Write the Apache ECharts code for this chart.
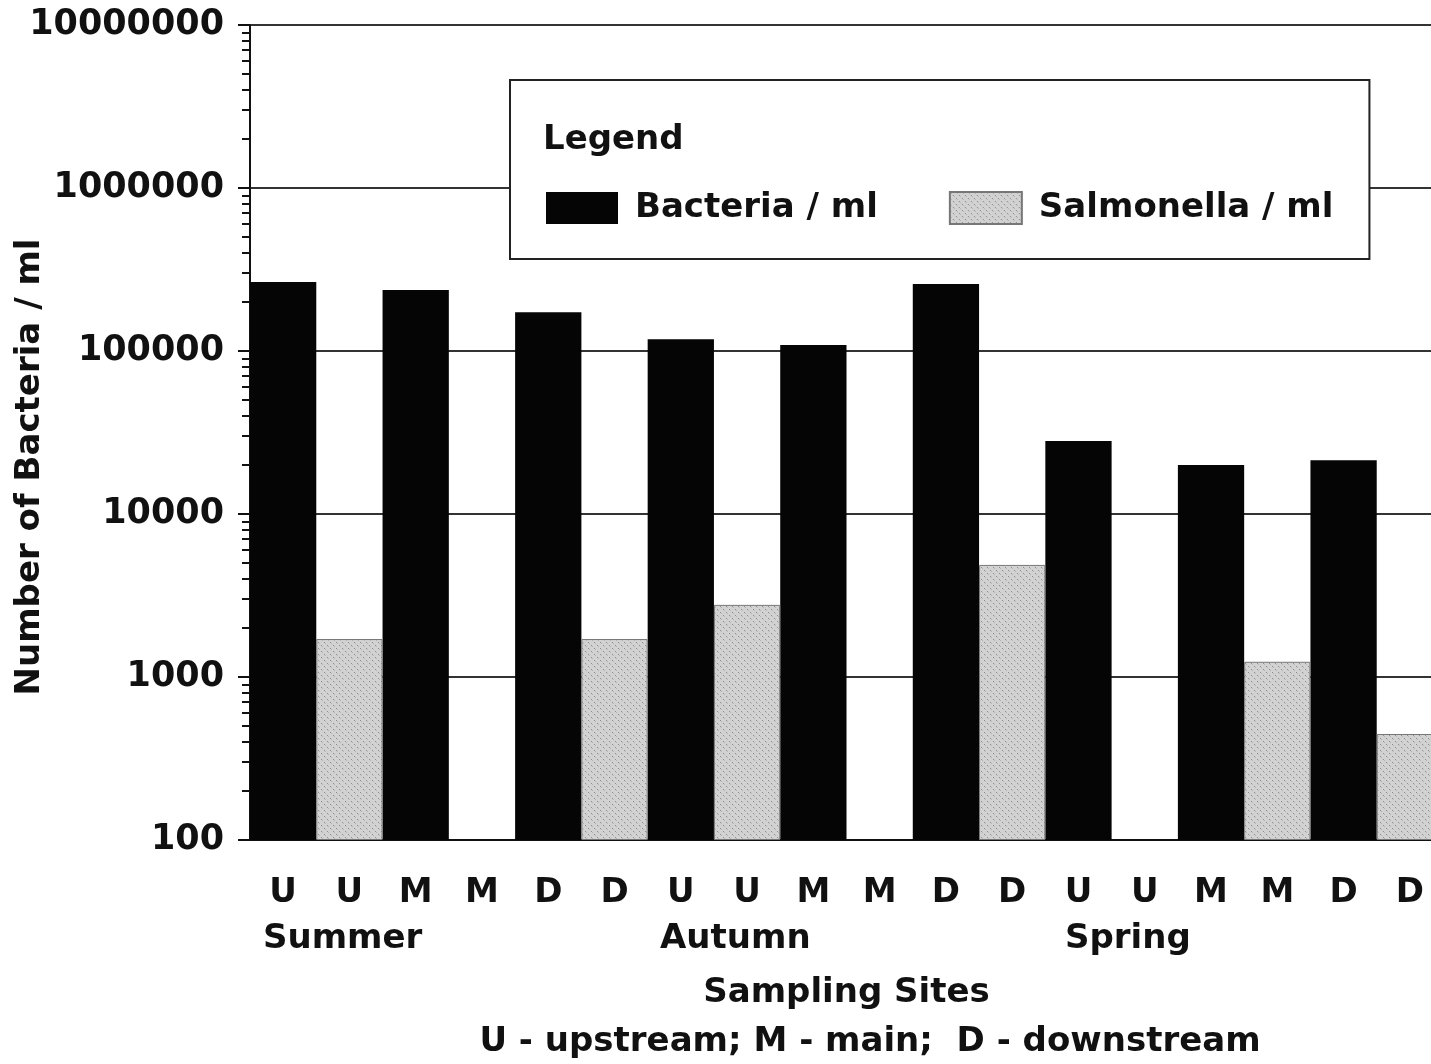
<!DOCTYPE html>
<html>
<head>
<meta charset="utf-8">
<script src="https://cdn.jsdelivr.net/npm/echarts@6/dist/echarts.min.js"></script>
<style>
html, body { margin: 0; padding: 0; background: #fff; }
#chart { width: 1431px; height: 1064px; }
</style>
</head>
<body>
<div id="chart"></div>
<script>
// sampling sites along the x axis, two columns per site (bacteria, salmonella)
var sites = ['U', 'U', 'M', 'M', 'D', 'D', 'U', 'U', 'M', 'M', 'D', 'D', 'U', 'U', 'M', 'M', 'D', 'D'];
var seasons = ['Summer', 'Autumn', 'Spring'];

// one value per site: Summer U/M/D, Autumn U/M/D, Spring U/M/D
var bacteria = [265000, 237000, 173000, 118000, 109000, 258000, 28000, 20000, 21400];
var salmonella = [1710, null, 1710, 2770, null, 4870, null, 1240, 447];

var yTicks = [100, 1000, 10000, 100000, 1000000, 10000000];

var FONT = 'DejaVu Sans';

function spread(values, offset) {
	var re = [];
	for (var i = 0; i < values.length; i++) {
		re[i * 2] = '-';
		re[i * 2 + 1] = '-';
		re[i * 2 + offset] = values[i] == null ? '-' : values[i];
	}
	return re;
}

function makeHatch() {
	var c = document.createElement('canvas');
	c.width = 6; c.height = 6;
	var g = c.getContext('2d');
	g.fillStyle = '#d2d2d2';
	g.fillRect(0, 0, 6, 6);
	g.fillStyle = '#8e8e8e';
	g.fillRect(0, 0, 1, 1);
	g.fillRect(3, 3, 1, 1);
	g.fillStyle = '#b4b4b4';
	g.fillRect(1, 1, 1, 1);
	g.fillRect(4, 4, 1, 1);
	return c;
}

var chart = echarts.init(document.getElementById('chart'));

var option = {
	backgroundColor: '#fff',
	animation: false,
	grid: { left: 250, right: -12, top: 25, bottom: 224, outerBoundsMode: 'none' },
	legend: {
		data: ['Bacteria / ml', 'Salmonella / ml'],
		left: 510, top: 80,
		padding: [111, 36, 34, 36],
		itemWidth: 72, itemHeight: 32, itemGap: 71,
		icon: 'rect',
		backgroundColor: '#fff',
		borderColor: '#222', borderWidth: 2,
		selectedMode: false,
		textStyle: { fontFamily: FONT, fontWeight: 'bold', fontSize: 34, color: '#111', padding: [0, 0, 0, 12] }
	},
	xAxis: {
		type: 'category',
		data: sites,
		axisLine: { lineStyle: { color: '#111', width: 2 } },
		axisTick: { alignWithLabel: true, length: 12, lineStyle: { color: '#111', width: 2 } },
		axisLabel: { fontFamily: FONT, fontWeight: 'bold', fontSize: 34, color: '#111', margin: 36, interval: 0 },
		name: 'Sampling Sites',
		nameLocation: 'middle',
		nameGap: 136,
		nameTextStyle: { fontFamily: FONT, fontWeight: 'bold', fontSize: 34, color: '#111' }
	},
	yAxis: {
		type: 'log',
		logBase: 10,
		min: yTicks[0],
		max: yTicks[yTicks.length - 1],
		startValue: yTicks[0],
		axisLine: { show: true, lineStyle: { color: '#111', width: 2 } },
		axisTick: { show: true, length: 12, lineStyle: { color: '#111', width: 2 } },
		minorTick: { show: true, splitNumber: 9, length: 8, lineStyle: { color: '#111', width: 2 } },
		splitLine: { show: true, lineStyle: { color: '#333', width: 2 } },
		axisLabel: {
			fontFamily: FONT, fontWeight: 'bold', fontSize: 35, color: '#111', margin: 26,
			formatter: function (v) { return String(Math.round(v)); }
		}
	},
	graphic: [
		{ type: 'text', left: 543, top: 123, z: 100,
		  style: { text: 'Legend', fontFamily: FONT, fontWeight: 'bold', fontSize: 34, fill: '#111' } },
		{ type: 'text', x: 30, y: 467, rotation: Math.PI / 2, z: 100,
		  style: { text: 'Number of Bacteria / ml', fontFamily: FONT, fontWeight: 'bold', fontSize: 34, fill: '#111',
		           align: 'center', verticalAlign: 'middle' } },
		{ type: 'text', left: 263, top: 922, z: 100,
		  style: { text: seasons[0], fontFamily: FONT, fontWeight: 'bold', fontSize: 34, fill: '#111' } },
		{ type: 'text', left: 660, top: 922, z: 100,
		  style: { text: seasons[1], fontFamily: FONT, fontWeight: 'bold', fontSize: 34, fill: '#111' } },
		{ type: 'text', left: 1065, top: 922, z: 100,
		  style: { text: seasons[2], fontFamily: FONT, fontWeight: 'bold', fontSize: 34, fill: '#111' } },
		{ type: 'text', x: 870, y: 1042, z: 100,
		  style: { text: 'U - upstream; M - main;  D - downstream', fontFamily: FONT, fontWeight: 'bold', fontSize: 34, fill: '#111',
		           align: 'center', verticalAlign: 'middle' } }
	],
	series: [
		{
			name: 'Bacteria / ml',
			type: 'bar',
			data: spread(bacteria, 0),
			barGap: '-100%',
			barCategoryGap: '0%',
			clip: true,
			itemStyle: { color: '#050505' }
		},
		{
			name: 'Salmonella / ml',
			type: 'bar',
			data: spread(salmonella, 1),
			barGap: '-100%',
			barCategoryGap: '0%',
			clip: true,
			itemStyle: { color: { image: makeHatch(), repeat: 'repeat' }, borderColor: '#777', borderWidth: 1 }
		}
	]
};

chart.setOption(option);
</script>
</body>
</html>
